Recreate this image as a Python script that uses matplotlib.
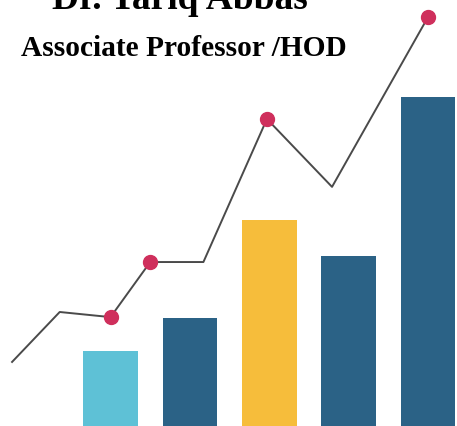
import matplotlib.pyplot as plt

# bar values (percent of image height) for the five columns
bar_pos = [0, 1, 2, 3, 4]
bar_vals = [17.6, 25.3, 48.2, 39.8, 77.0]
bar_colors = ['#5ec1d6', '#2b6286', '#f6bd3b', '#2b6286', '#2b6286']

# trend line (x in bar units), with markers at some vertices
line_x = [-1.24, -0.64, 0.0, 0.5, 1.17, 1.97, 2.79, 4.0]
line_y = [15.0, 26.7, 25.5, 38.4, 38.4, 71.9, 56.0, 95.8]
mark_x = [0.0, 0.5, 1.97, 4.0]
mark_y = [25.5, 38.4, 71.9, 95.8]

name = 'Dr. Tariq Abbas'
role = 'Associate Professor /HOD'

fig = plt.figure(figsize=(4.57, 4.27), dpi=100)
ax = fig.add_axes([0, 0, 1, 1])

ax.bar(bar_pos, bar_vals, width=0.69, color=bar_colors, zorder=1)
ax.plot(line_x, line_y, color='#4a4a4a', lw=1.4, zorder=2)
ax.scatter(mark_x, mark_y, s=100, color='#cf2f5c', zorder=3)

ax.set_xlim(-1.392, 4.364)
ax.set_ylim(0, 100)
ax.axis('off')

# the name is cropped at the top edge, as in the original
fig.text(0.394, 1.0 - 9 / 427, name, ha='center', va='baseline',
         family='Liberation Serif', weight='bold', fontsize=27)
fig.text(0.402, 1.0 - 56 / 427, role, ha='center', va='baseline',
         family='Liberation Serif', weight='bold', fontsize=21.2)

fig.savefig('out.png', dpi=100)
